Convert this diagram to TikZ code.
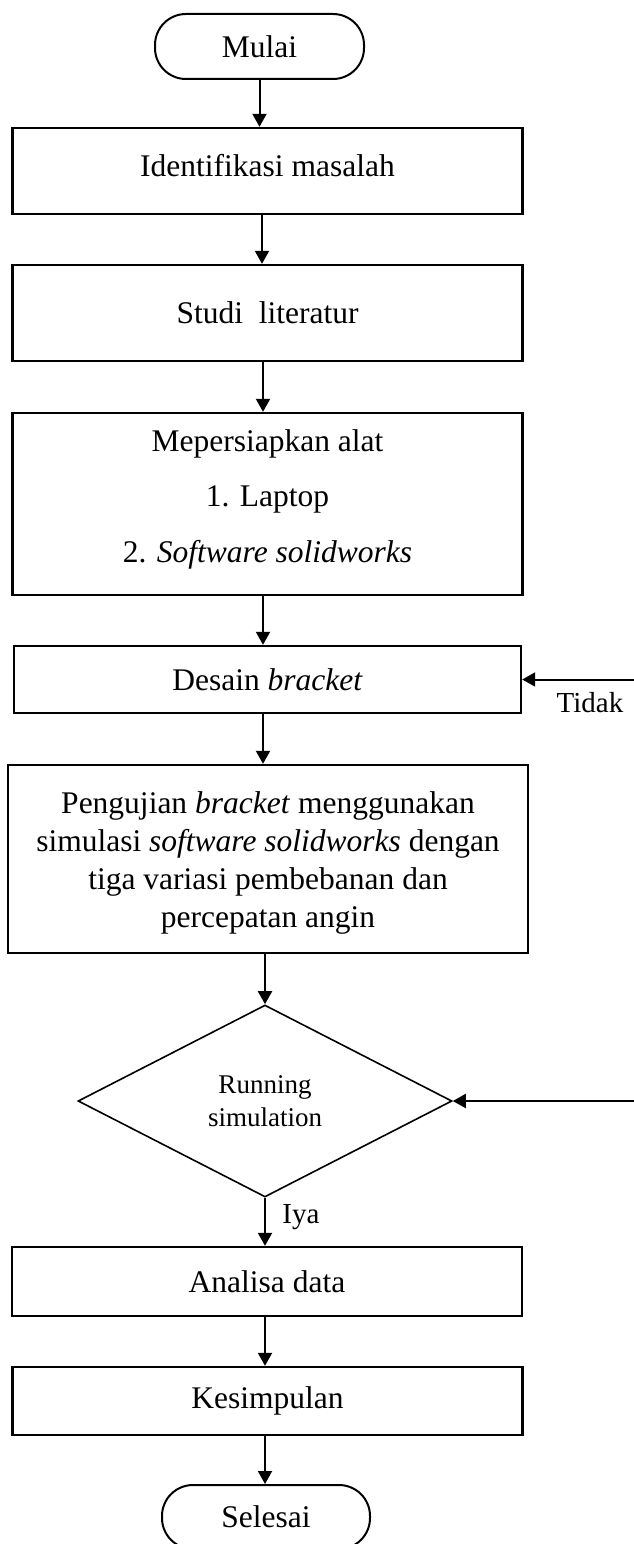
\documentclass[tikz,border=0pt]{standalone}
\usepackage{fontspec}
\setmainfont{Liberation Serif}
\usetikzlibrary{shapes.geometric,arrows.meta}
\begin{document}
\begin{tikzpicture}[x=1pt,y=-1pt,
  box/.style={draw, line width=2.4pt, minimum width=510pt, inner sep=0pt,
    font=\fontsize{31.5}{37}\selectfont, align=center},
  txt/.style={inner sep=0pt, font=\fontsize{31.5}{38}\selectfont, align=center},
  term/.style={draw, line width=2pt, rounded corners=31pt, inner sep=0pt,
    font=\fontsize{31.5}{37}\selectfont},
  decision/.style={diamond, draw, line width=1.6pt, inner sep=0pt, align=center,
    font=\fontsize{27}{33}\selectfont},
  arr/.style={line width=2pt, -{Triangle[width=14pt,length=13pt]}},
  lbl/.style={font=\fontsize{29}{33}\selectfont, inner sep=0pt}]
\useasboundingbox (0,0) rectangle (634,1544);
\clip (0,0) rectangle (634,1544);

\node[term, minimum width=209pt, minimum height=65pt] (mulai) at (259.5,46.5) {Mulai};
\node[box, minimum height=86pt] (ident) at (267.5,171) {};
\node[txt] (identtext) at (267.5,166) {Identifikasi masalah};
\node[box, minimum height=96pt] (studi) at (267.5,313) {Studi~~literatur};
\node[box, minimum height=182pt] (alat) at (267.5,504) {};
\node[txt, font=\fontsize{31.5}{55.5}\selectfont] (alattext) at (267.5,499)
  {Mepersiapkan alat\\1. Laptop\\2. \textit{Software solidworks}};
\node[box, minimum width=507pt, minimum height=67pt] (desain) at (267.5,679.5) {Desain \textit{bracket}};
\node[box, minimum width=520pt, minimum height=188pt] (uji) at (268,859) {};
\node[txt] (ujitext) at (268,863)
  {Pengujian \textit{bracket} menggunakan\\simulasi \textit{software solidworks} dengan\\tiga variasi pembebanan dan\\percepatan angin};
\node[decision, minimum width=374pt, minimum height=192pt] (dec) at (265,1101) {Running\\simulation};
\node[box, minimum height=69pt] (analisa) at (267,1281.5) {Analisa data};
\node[box, minimum height=68pt] (kes) at (267.5,1401) {Kesimpulan};
\node[term, minimum width=208pt, minimum height=64pt] (selesai) at (266,1517) {Selesai};

\coordinate (tin) at (634,679.5);
\coordinate (rin) at (634,1101);

\draw[arr] (mulai.south) -- (mulai.south |- ident.north);
\draw[arr] (ident.south -| 262,0) -- (262,0 |- studi.north);
\draw[arr] (studi.south -| 263,0) -- (263,0 |- alat.north);
\draw[arr] (alat.south -| 263,0) -- (263,0 |- desain.north);
\draw[arr] (desain.south -| 263,0) -- (263,0 |- uji.north);
\draw[arr] (uji.south -| dec.north) -- (dec.north);
\draw[arr] (dec.south) -- (dec.south |- analisa.north);
\draw[arr] (analisa.south -| 265,0) -- (265,0 |- kes.north);
\draw[arr] (kes.south -| 265,0) -- (265,0 |- selesai.north);

\draw[arr] (tin) -- (desain.east);
\draw[arr] (rin) -- (dec.east);

\node[lbl] (tidak) at (590,703) {Tidak};
\node[lbl] (iya) at (301,1217) {Iya};
\end{tikzpicture}
\end{document}
